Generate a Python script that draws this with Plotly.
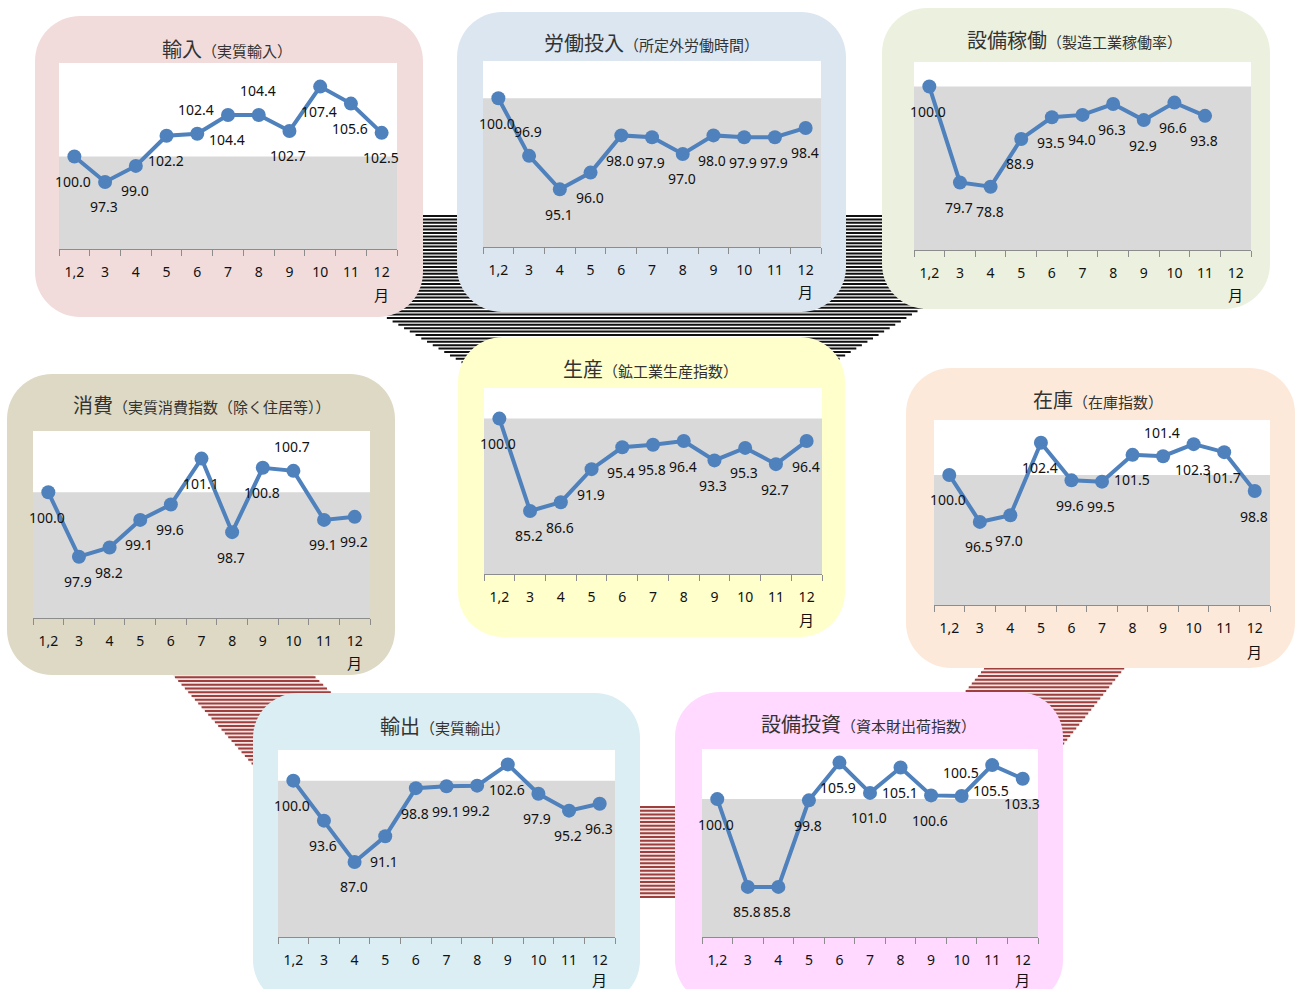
import plotly.graph_objects as go

W, H = 1295, 989

# ---- data -------------------------------------------------------------
months = ["1,2", "3", "4", "5", "6", "7", "8", "9", "10", "11", "12"]

imports_real = [100.0, 97.3, 99.0, 102.2, 102.4, 104.4, 104.4, 102.7, 107.4, 105.6, 102.5]
labor_overtime = [100.0, 96.9, 95.1, 96.0, 98.0, 97.9, 97.0, 98.0, 97.9, 97.9, 98.4]
capacity_util = [100.0, 79.7, 78.8, 88.9, 93.5, 94.0, 96.3, 92.9, 96.6, 93.8]
consumption_idx = [100.0, 97.9, 98.2, 99.1, 99.6, 101.1, 98.7, 100.8, 100.7, 99.1, 99.2]
production_idx = [100.0, 85.2, 86.6, 91.9, 95.4, 95.8, 96.4, 93.3, 95.3, 92.7, 96.4]
inventory_idx = [100.0, 96.5, 97.0, 102.4, 99.6, 99.5, 101.5, 101.4, 102.3, 101.7, 98.8]
exports_real = [100.0, 93.6, 87.0, 91.1, 98.8, 99.1, 99.2, 102.6, 97.9, 95.2, 96.3]
capital_goods = [100.0, 85.8, 85.8, 99.8, 105.9, 101.0, 105.1, 100.6, 100.5, 105.5, 103.3]

titles = ["輸入", "労働投入", "設備稼働", "消費", "生産", "在庫", "輸出", "設備投資"]
subtitles = ["（実質輸入）", "（所定外労働時間）", "（製造工業稼働率）",
             "（実質消費指数（除く住居等））", "（鉱工業生産指数）", "（在庫指数）",
             "（実質輸出）", "（資本財出荷指数）"]
unit_label = "月"
base_level = 100.0

series = [imports_real, labor_overtime, capacity_util, consumption_idx,
          production_idx, inventory_idx, exports_real, capital_goods]

# ---- layout / style ---------------------------------------------------
# panel box (px), plot area (px), y range, panel colour, title centre (px)
boxes = [(35, 16, 423, 317), (457, 12, 846, 312), (882, 8, 1270, 309),
         (7, 374, 395, 675), (458, 337, 845, 637), (906, 368, 1295, 668),
         (253, 693, 640, 1005), (675, 692, 1063, 1005)]
plots = [(59, 63, 397, 249), (483, 61, 821, 247), (914, 62, 1251, 250),
         (33, 431, 370, 618), (484, 388, 822, 574), (934, 420, 1270, 605),
         (278, 750, 615, 937), (702, 749, 1038, 937)]
yranges = [(90.2, 109.9), (92.0, 102.0), (65.4, 105.2), (95.9, 102.0),
           (75.1, 104.9), (90.3, 104.1), (75.0, 104.9), (77.7, 108.1)]
box_colors = ["#F2DCDB", "#DCE6F1", "#EBF1DE", "#DDD9C4",
              "#FFFFCC", "#FDE9D9", "#DAEEF3", "#FFD9FF"]
title_pos = [(227, 48), (652, 43), (1074, 40), (202, 405),
             (650, 368), (1098, 400), (445, 725), (868, 723)]
unit_shift = [-46, -44, -44, -44, -45, -46, -42, -42]
# label placement: b = below the point, t = above
label_side = [
    "bbbbtbtbbbb",
    "btbbbbbbbbb",
    "bbbbbbbbbb",
    "bbbbbbbbtbb",
    "bbbbbbbbbbb",
    "bbbbbbbtbbb",
    "bbbbbbbbbbb",
    "bbbbbbbbtbb",
]

LINE_BLUE = "#4F81BD"
GRAY_FILL = "#D9D9D9"
AXIS_GRAY = "#8C8C8C"
NUM_FONT = "Noto Sans"
JP_FONT = "Noto Sans CJK JP"


def fx(x):
    return x / W


def fy(y):
    return 1 - y / H


def rounded_rect_path(x0, y0, x1, y1, r):
    k = 0.5523 * r
    pts = [
        ("M", [(x0 + r, y0)]),
        ("L", [(x1 - r, y0)]),
        ("C", [(x1 - r + k, y0), (x1, y0 + r - k), (x1, y0 + r)]),
        ("L", [(x1, y1 - r)]),
        ("C", [(x1, y1 - r + k), (x1 - r + k, y1), (x1 - r, y1)]),
        ("L", [(x0 + r, y1)]),
        ("C", [(x0 + r - k, y1), (x0, y1 - r + k), (x0, y1 - r)]),
        ("L", [(x0, y0 + r)]),
        ("C", [(x0, y0 + r - k), (x0 + r - k, y0), (x0 + r, y0)]),
    ]
    s = ""
    for cmd, pp in pts:
        s += cmd + " ".join(f"{fx(a):.5f},{fy(b):.5f}" for a, b in pp)
    return s + "Z"


def polygon_path(poly):
    return "M" + "L".join(f"{fx(a):.5f},{fy(b):.5f}" for a, b in poly) + "Z"


def stripe_path(poly, period, y_start, y_end):
    segs = []
    n = len(poly)
    y = y_start
    while y <= y_end:
        xs = []
        for i in range(n):
            (x1, y1), (x2, y2) = poly[i], poly[(i + 1) % n]
            if (y1 <= y < y2) or (y2 <= y < y1):
                xs.append(x1 + (y - y1) * (x2 - x1) / (y2 - y1))
        xs.sort()
        for a, b in zip(xs[0::2], xs[1::2]):
            segs.append(f"M{fx(a):.5f},{fy(y):.5f}L{fx(b):.5f},{fy(y):.5f}")
        y += period
    return "".join(segs)


shapes = []

# hatched connectors behind the panels
black_funnel = [(213, 215), (1075, 215), (818, 372), (478, 372)]
red_left = [(164, 665), (303, 665), (400, 760), (268, 782)]
red_right = [(991, 660), (1131, 660), (1051, 760), (942, 720)]
red_mid = [(636, 806), (680, 806), (680, 898), (636, 898)]

shapes.append(dict(type="path", xref="paper", yref="paper", layer="below",
                   path=polygon_path(black_funnel), fillcolor="white", line_width=0))
shapes.append(dict(type="path", xref="paper", yref="paper", layer="below",
                   path=stripe_path(black_funnel, 3.4, 216, 372),
                   line=dict(color="#111111", width=2)))
for poly in (red_left, red_right, red_mid):
    ys = [p[1] for p in poly]
    shapes.append(dict(type="path", xref="paper", yref="paper", layer="below",
                       path=polygon_path(poly), fillcolor="#F4E6E6", line_width=0))
    shapes.append(dict(type="path", xref="paper", yref="paper", layer="below",
                       path=stripe_path(poly, 3.75, min(ys) + 1, max(ys)),
                       line=dict(color="#9E3F3D", width=1.8)))

# rounded panels
for (bx0, by0, bx1, by1), col in zip(boxes, box_colors):
    shapes.append(dict(type="path", xref="paper", yref="paper", layer="below",
                       path=rounded_rect_path(bx0, by0, bx1, by1, 45),
                       fillcolor=col, line_width=0))

fig = go.Figure()
annotations = []
layout_axes = {}

for i, vals in enumerate(series):
    n = i + 1
    suffix = "" if n == 1 else str(n)
    xa, ya = f"x{suffix}", f"y{suffix}"
    px0, py0, px1, py1 = plots[i]
    y_lo, y_hi = yranges[i]

    # white plot area and grey band up to the base level
    shapes.append(dict(type="rect", xref="paper", yref="paper", layer="below",
                       x0=fx(px0), x1=fx(px1), y0=fy(py1), y1=fy(py0),
                       fillcolor="white", line_width=0))
    shapes.append(dict(type="rect", xref=f"{xa} domain", yref=ya, layer="below",
                       x0=0, x1=1, y0=y_lo, y1=base_level,
                       fillcolor=GRAY_FILL, line_width=0))

    yvals = list(vals) + [None] * (len(months) - len(vals))
    fig.add_trace(go.Scatter(
        x=months, y=yvals, xaxis=xa, yaxis=ya, mode="lines+markers",
        line=dict(color=LINE_BLUE, width=4),
        marker=dict(color=LINE_BLUE, size=14),
        showlegend=False, hoverinfo="skip", cliponaxis=False,
    ))

    # value labels (category index used as x on the category axis)
    for j, v in enumerate(vals):
        side = label_side[i][j]
        annotations.append(dict(
            x=j, y=v, xref=xa, yref=ya, text=f"{v:.1f}",
            showarrow=False, xshift=-1, yshift=24 if side == "t" else -25,
            font=dict(family=NUM_FONT, size=14, color="#111111"),
        ))

    annotations.append(dict(
        x=len(months) - 1, y=0, xref=xa, yref=f"{ya} domain", text=unit_label,
        showarrow=False, yshift=unit_shift[i], yanchor="middle",
        font=dict(family=JP_FONT, size=15, color="#111111"),
    ))

    tx, ty = title_pos[i]
    annotations.append(dict(
        x=fx(tx), y=fy(ty), xref="paper", yref="paper", showarrow=False,
        xanchor="center", yanchor="middle",
        text=(f"<span style='font-size:20px'>{titles[i]}</span>"
              f"<span style='font-size:15px'>{subtitles[i]}</span>"),
        font=dict(family=JP_FONT, size=20, color="#333333"),
    ))

    layout_axes[f"xaxis{suffix}"] = dict(
        domain=[fx(px0), fx(px1)], anchor=ya, type="category",
        categoryorder="array", categoryarray=months, range=[-0.5, len(months) - 0.5],
        tickson="boundaries", ticks="outside", ticklen=6, tickcolor=AXIS_GRAY,
        showline=True, linecolor=AXIS_GRAY, linewidth=1, showgrid=False,
        zeroline=False, fixedrange=True, ticklabelstandoff=10,
        tickfont=dict(family=NUM_FONT, size=14, color="#111111"),
    )
    layout_axes[f"yaxis{suffix}"] = dict(
        domain=[fy(py1), fy(py0)], anchor=xa, range=[y_lo, y_hi],
        visible=False, fixedrange=True, showgrid=False, zeroline=False,
    )

fig.update_layout(
    width=W, height=H, margin=dict(l=0, r=0, t=0, b=0),
    paper_bgcolor="white", plot_bgcolor="white",
    shapes=shapes, annotations=annotations, showlegend=False,
    **layout_axes,
)

fig.write_html("out.html", config={"displayModeBar": False})
